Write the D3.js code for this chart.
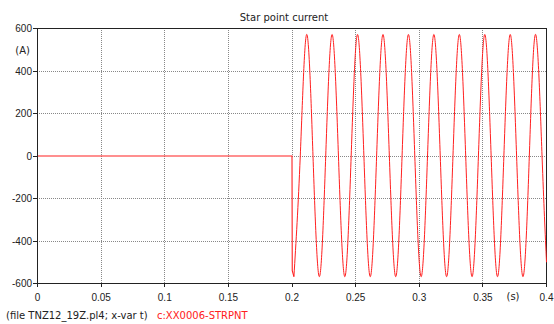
<!DOCTYPE html>
<html>
<head>
<meta charset="utf-8">
<title>Star point current</title>
<script src="https://d3js.org/d3.v7.min.js"></script>
<style>
    body{ margin:0; background:#fff; }
    svg{ font-family: "DejaVu Sans", Verdana, sans-serif; }
    .grid line{ stroke:#888; stroke-dasharray:1,1; shape-rendering:crispEdges; }
    .axis text{ font-size:10px; fill:#222; }
    .axis path, .axis line{ stroke:#222; shape-rendering:crispEdges; }
</style>
</head>
<body>
<svg width="554" height="324"></svg>
<script>
// data
var xTicks = [0, 0.05, 0.1, 0.15, 0.2, 0.25, 0.3, 0.35, 0.4];
var yTicks = [-600, -400, -200, 0, 200, 400, 600];

// flat part before the fault, then the drop at 0.2 s
var preTime = [0, 0.2, 0.2002, 0.2015];
var preCurrent = [0, 0, -540, -568];

// oscillation after 0.2 s (extremes and zero crossings)
var oscTime = [0.2015, 0.2065, 0.2115, 0.2165, 0.2215, 0.2265, 0.2315, 0.2365,
    0.2415, 0.2465, 0.2515, 0.2565, 0.2615, 0.2665, 0.2715, 0.2765, 0.2815, 0.2865,
    0.2915, 0.2965, 0.3015, 0.3065, 0.3115, 0.3165, 0.3215, 0.3265, 0.3315, 0.3365,
    0.3415, 0.3465, 0.3515, 0.3565, 0.3615, 0.3665, 0.3715, 0.3765, 0.3815, 0.3865,
    0.3915, 0.3965, 0.4];
var oscCurrent = [-568, 0, 572, 0, -568, 0, 572, 0,
    -568, 0, 572, 0, -568, 0, 572, 0, -568, 0,
    572, 0, -568, 0, 572, 0, -568, 0, 572, 0,
    -568, 0, 572, 0, -568, 0, 572, 0, -568, 0,
    572, 0, -500];

var svg = d3.select("svg"),
    pLeft = 37, pRight = 546, pTop = 28, pBottom = 283;

var x = d3.scaleLinear().domain([0, 0.4]).range([pLeft + 0.5, pRight + 0.5]);
var y = d3.scaleLinear().domain([-600, 600]).range([pBottom + 0.5, pTop + 0.5]);

svg.append("rect").attr("width", 554).attr("height", 324).attr("fill", "#fff");

// grid (parts covered by the red trace are left out)
var grid = svg.append("g").attr("class", "grid");
grid.selectAll(".gx")
    .data(xTicks.filter(function (d) { return d > 0 && d < 0.4; }))
    .enter().append("line")
    .attr("x1", function (d) { return Math.floor(x(d)) + 0.5; })
    .attr("x2", function (d) { return Math.floor(x(d)) + 0.5; })
    .attr("y1", pTop)
    .attr("y2", function (d) { return d === 0.2 ? y(0) : pBottom; });
grid.selectAll(".gy")
    .data(yTicks.filter(function (d) { return d > -600 && d < 600; }))
    .enter().append("line")
    .attr("x1", function (d) { return d === 0 ? x(0.2) : pLeft; })
    .attr("x2", pRight)
    .attr("y1", function (d) { return Math.floor(y(d)) + 0.5; })
    .attr("y2", function (d) { return Math.floor(y(d)) + 0.5; });

// axes
svg.append("g").attr("class", "axis")
    .attr("transform", "translate(-0.5," + pBottom + ")")
    .call(d3.axisBottom(x).tickValues(xTicks).tickSize(4).tickSizeOuter(0)
        .tickFormat(function (d) { return d3.format("")(d); }))
    .selectAll("text").attr("dy", "1.05em");

svg.append("g").attr("class", "axis")
    .attr("transform", "translate(" + pLeft + ",-0.5)")
    .call(d3.axisLeft(y).tickValues(yTicks).tickSize(4).tickSizeOuter(0)
        .tickFormat(function (d) { return String(d); }))
    .selectAll("text").attr("dy", "0.35em").attr("x", -5);

// frame
svg.append("rect")
    .attr("x", pLeft + 0.5).attr("y", pTop + 0.5)
    .attr("width", pRight - pLeft).attr("height", pBottom - pTop)
    .attr("fill", "none").attr("stroke", "#222")
    .style("shape-rendering", "crispEdges");

// curve
svg.append("clipPath").attr("id", "clip")
    .append("rect").attr("x", pLeft + 1).attr("y", pTop)
    .attr("width", pRight - pLeft).attr("height", pBottom - pTop);

var plot = svg.append("g").attr("clip-path", "url(#clip)");

var preLine = d3.line()
    .x(function (d) { return x(preTime[d]); })
    .y(function (d) { return y(preCurrent[d]); });

plot.append("path")
    .attr("d", preLine(d3.range(preTime.length)))
    .attr("fill", "none").attr("stroke", "#ff2020").attr("stroke-width", 1.1);

var oscLine = d3.line()
    .curve(d3.curveNatural)
    .x(function (d) { return x(oscTime[d]); })
    .y(function (d) { return y(oscCurrent[d]); });

plot.append("path")
    .attr("d", oscLine(d3.range(oscTime.length)))
    .attr("fill", "none").attr("stroke", "#ff2020").attr("stroke-width", 1);

// labels
svg.append("text").attr("x", 284).attr("y", 21)
    .attr("text-anchor", "middle").attr("font-size", 10).attr("fill", "#222")
    .text("Star point current");

svg.append("text").attr("x", 30).attr("y", 54)
    .attr("text-anchor", "end").attr("font-size", 10).attr("fill", "#222")
    .text("(A)");

svg.append("text").attr("x", 513).attr("y", 300)
    .attr("text-anchor", "middle").attr("font-size", 10).attr("fill", "#222")
    .text("(s)");

svg.append("text").attr("x", 6).attr("y", 319)
    .attr("font-size", 10).attr("fill", "#222")
    .text("(file TNZ12_19Z.pl4; x-var t)");

svg.append("text").attr("x", 157).attr("y", 319)
    .attr("font-size", 10).attr("fill", "#ff2020")
    .text("c:XX0006-STRPNT");
</script>
</body>
</html>
